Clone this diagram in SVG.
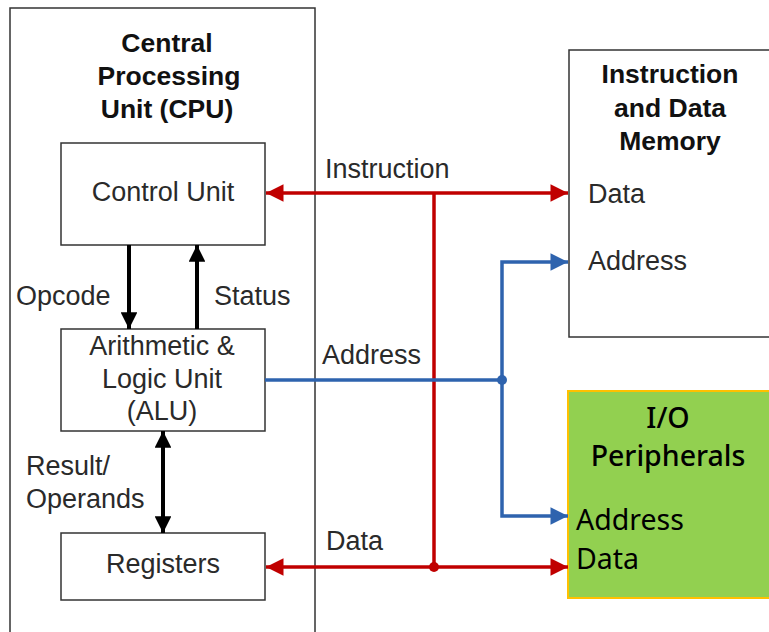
<svg xmlns="http://www.w3.org/2000/svg" width="769" height="632" viewBox="0 0 769 632">
<style>
  .box{fill:#fff;stroke:#333;stroke-width:1.5}
  .t{font-family:"Liberation Sans",Arial,sans-serif;font-size:27px;fill:#2a2a2a}
  .b{font-weight:bold;font-size:26.5px;fill:#111}
  .io{font-family:"Noto Sans","Liberation Sans",sans-serif;font-size:28.5px;fill:#000}
  .iot{font-weight:500}
  .red{stroke:#C00000;stroke-width:3.5;fill:none}
  .blue{stroke:#2E63AE;stroke-width:3.5;fill:none}
  .blk{stroke:#000;stroke-width:4;fill:none}
</style>
<defs>
  <marker id="ar" viewBox="0 0 10 10" refX="10" refY="5" markerWidth="7" markerHeight="5" markerUnits="strokeWidth" orient="auto-start-reverse"><path d="M0,0 L10,5 L0,10 z" fill="#C00000"/></marker>
  <marker id="ab" viewBox="0 0 10 10" refX="10" refY="5" markerWidth="7" markerHeight="5" markerUnits="strokeWidth" orient="auto-start-reverse"><path d="M0,0 L10,5 L0,10 z" fill="#2E63AE"/></marker>
  <marker id="ak" viewBox="0 0 10 10" refX="10" refY="5" markerWidth="5.5" markerHeight="4.2" markerUnits="strokeWidth" orient="auto-start-reverse"><path d="M0,0 L10,5 L0,10 z" fill="#000"/></marker>
</defs>

<g id="cpu">
  <rect class="box" x="10" y="8" width="305" height="640"/>
  <text class="t b" text-anchor="middle" x="167" y="52">Central</text>
  <text class="t b" text-anchor="middle" x="169" y="85">Processing</text>
  <text class="t b" text-anchor="middle" x="167" y="118">Unit (CPU)</text>
</g>
<g id="control-unit">
  <rect class="box" x="61" y="143" width="204" height="102"/>
  <text class="t" text-anchor="middle" x="163" y="201">Control Unit</text>
</g>
<g id="alu">
  <rect class="box" x="61" y="329" width="204" height="102"/>
  <text class="t" text-anchor="middle" x="162" y="355">Arithmetic &amp;</text>
  <text class="t" text-anchor="middle" x="162" y="388">Logic Unit</text>
  <text class="t" text-anchor="middle" x="162" y="420">(ALU)</text>
</g>
<g id="registers">
  <rect class="box" x="61" y="533" width="204" height="67"/>
  <text class="t" text-anchor="middle" x="163" y="573">Registers</text>
</g>
<g id="memory">
  <rect class="box" x="569" y="50" width="220" height="287"/>
  <text class="t b" text-anchor="middle" x="670" y="83">Instruction</text>
  <text class="t b" text-anchor="middle" x="670" y="117">and Data</text>
  <text class="t b" text-anchor="middle" x="670" y="150">Memory</text>
  <text class="t" x="588" y="203">Data</text>
  <text class="t" x="588" y="270">Address</text>
</g>
<g id="io">
  <rect x="568" y="391" width="220" height="207" fill="#92D050" stroke="#FFC000" stroke-width="2"/>
  <text class="io iot" text-anchor="middle" x="668" y="428">I/O</text>
  <text class="io iot" text-anchor="middle" x="668" y="466">Peripherals</text>
  <text class="io" x="576" y="530">Address</text>
  <text class="io" x="576" y="569">Data</text>
</g>

<g id="connectors">
  <path class="blk" d="M129,245 V329" marker-end="url(#ak)"/>
  <path class="blk" d="M197,329 V245" marker-end="url(#ak)"/>
  <path class="blk" d="M163,431 V533" marker-start="url(#ak)" marker-end="url(#ak)"/>
  <path class="red" d="M266,193 H568" marker-start="url(#ar)" marker-end="url(#ar)"/>
  <path class="red" d="M266,567 H568" marker-start="url(#ar)" marker-end="url(#ar)"/>
  <path class="red" d="M434,193 V567"/>
  <circle cx="434" cy="567" r="5" fill="#C00000"/>
  <path class="blue" d="M265,380 H502"/>
  <path class="blue" d="M502,380 V262 H568" marker-end="url(#ab)"/>
  <path class="blue" d="M502,380 V516 H568" marker-end="url(#ab)"/>
  <circle cx="502" cy="380" r="5" fill="#2E63AE"/>
  <text class="t" x="325" y="178">Instruction</text>
  <text class="t" x="322" y="364">Address</text>
  <text class="t" x="326" y="550">Data</text>
  <text class="t" x="16" y="305">Opcode</text>
  <text class="t" x="214" y="305">Status</text>
  <text class="t" x="26" y="475">Result/</text>
  <text class="t" x="26" y="508">Operands</text>
</g>
</svg>
